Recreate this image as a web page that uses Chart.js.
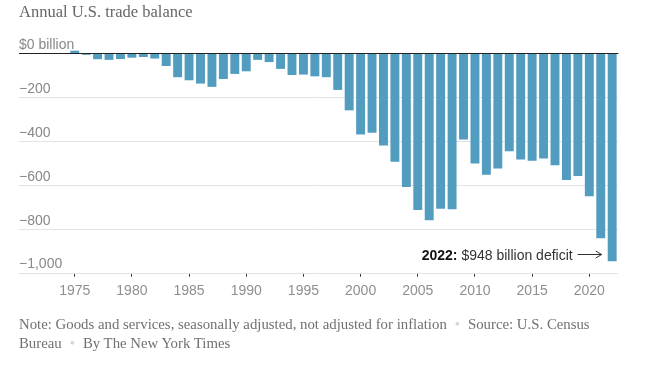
<!DOCTYPE html>
<html><head><meta charset="utf-8">
<script src="https://cdn.jsdelivr.net/npm/chart.js@4/dist/chart.umd.min.js"></script>
<style>
html,body{margin:0;padding:0;background:#fff;}
#wrap{position:relative;width:664px;height:371px;overflow:hidden;}
#c{position:absolute;left:0;top:0;}
.title{position:absolute;left:19px;top:3.7px;font:16.5px/1 "Liberation Serif",serif;color:#666;white-space:nowrap;}
.note{position:absolute;left:19px;top:315px;width:640px;font:14.8px/19px "Liberation Serif",serif;color:#707070;white-space:nowrap;}
.dot{color:#d4d4d4;margin:0 8px;}
</style></head>
<body><div id="wrap">
<canvas id="c" width="664" height="371"></canvas>
<div class="title">Annual U.S. trade balance</div>
<div class="note">Note: Goods and services, seasonally adjusted, not adjusted for inflation<span class="dot">•</span>Source: U.S. Census<br>Bureau<span class="dot">•</span>By The New York Times</div>
</div>
<script>
const years = ['1975','1976','1977','1978','1979','1980','1981','1982','1983','1984',
  '1985','1986','1987','1988','1989','1990','1991','1992','1993','1994',
  '1995','1996','1997','1998','1999','2000','2001','2002','2003','2004',
  '2005','2006','2007','2008','2009','2010','2011','2012','2013','2014',
  '2015','2016','2017','2018','2019','2020','2021','2022'];
const balance = [12,-7,-27,-30,-26,-20,-17,-24,-58,-109,
  -123,-138,-153,-117,-94,-82,-30,-40,-71,-99,
  -97,-105,-109,-167,-260,-370,-362,-420,-494,-609,
  -714,-761,-709,-711,-393,-502,-553,-525,-447,-484,
  -490,-480,-510,-578,-559,-651,-843,-948];
const xTickYears = ['1975','1980','1985','1990','1995','2000','2005','2010','2015','2020'];
const yTicks = [0,-200,-400,-600,-800,-1000];
const yTickLabels = ['$0 billion','\u2212200','\u2212400','\u2212600','\u2212800','\u22121,000'];
const annotYear = '2022';
const annotBold = '2022:';
const annotText = ' $948 billion deficit';

const LEFT_EDGE = 19;
const overlay = {
  id: 'overlay',
  beforeDatasetsDraw(chart) {
    const {ctx, chartArea, scales:{y}} = chart;
    ctx.save();
    ctx.strokeStyle = '#e3e3e3';
    ctx.lineWidth = 1;
    yTicks.forEach(v => {
      if (v === 0) return;
      const py = Math.round(y.getPixelForValue(v)) + 0.5;
      ctx.beginPath(); ctx.moveTo(LEFT_EDGE, py); ctx.lineTo(chartArea.right, py); ctx.stroke();
    });
    ctx.restore();
  },
  afterDatasetsDraw(chart) {
    const {ctx, chartArea, scales:{x, y}} = chart;
    ctx.save();
    const z = Math.round(y.getPixelForValue(0)) + 0.5;
    ctx.strokeStyle = '#222'; ctx.lineWidth = 1;
    ctx.beginPath(); ctx.moveTo(LEFT_EDGE, z); ctx.lineTo(chartArea.right + 0.5, z); ctx.stroke();
    ctx.font = '14px "Liberation Sans", Arial, sans-serif';
    ctx.fillStyle = '#888';
    ctx.textAlign = 'left'; ctx.textBaseline = 'alphabetic';
    yTicks.forEach((v, i) => {
      const py = y.getPixelForValue(v);
      ctx.fillText(yTickLabels[i], LEFT_EDGE, py - 4.3);
    });
    const idx = years.indexOf(annotYear);
    const cx = x.getPixelForValue(idx);
    const base = y.getPixelForValue(-940);
    const arrowEnd = cx - 10.5;
    const arrowStart = arrowEnd - 24;
    const ay = Math.round(base - 5.3) + 0.5;
    ctx.strokeStyle = '#333'; ctx.lineWidth = 1;
    ctx.beginPath(); ctx.moveTo(arrowStart, ay); ctx.lineTo(arrowEnd, ay); ctx.stroke();
    ctx.beginPath(); ctx.moveTo(arrowEnd - 6, ay - 3.5); ctx.lineTo(arrowEnd, ay); ctx.lineTo(arrowEnd - 6, ay + 3.5); ctx.stroke();
    ctx.font = '14px "Liberation Sans", Arial, sans-serif';
    const wReg = ctx.measureText(annotText).width;
    ctx.font = 'bold 14px "Liberation Sans", Arial, sans-serif';
    const wBold = ctx.measureText(annotBold).width;
    const textEnd = arrowStart - 5;
    const textStart = textEnd - wReg - wBold;
    ctx.fillStyle = '#121212';
    ctx.fillText(annotBold, textStart, base);
    ctx.font = '14px "Liberation Sans", Arial, sans-serif';
    ctx.fillStyle = '#333';
    ctx.fillText(annotText, textStart + wBold, base);
    ctx.restore();
  }
};

new Chart(document.getElementById('c'), {
  type: 'bar',
  data: {
    labels: years,
    datasets: [{
      data: balance,
      backgroundColor: '#529cc0',
      borderWidth: 0,
      barPercentage: 0.78,
      categoryPercentage: 1,
      clip: false
    }]
  },
  options: {
    responsive: false,
    animation: false,
    devicePixelRatio: 1,
    layout: { padding: { left: 69, right: 46.1, top: 53.3, bottom: 58.3 } },
    plugins: { legend: { display: false }, tooltip: { enabled: false } },
    scales: {
      x: {
        offset: true,
        border: { display: false },
        grid: {
          offset: false,
          drawOnChartArea: false,
          drawTicks: true,
          tickLength: 4,
          lineWidth: 1,
          color: ctx => (ctx.tick && xTickYears.includes(years[ctx.index])) ? '#333' : 'rgba(0,0,0,0)'
        },
        ticks: {
          autoSkip: false,
          maxRotation: 0,
          minRotation: 0,
          padding: 6,
          color: '#8f8f8f',
          font: { family: '"Liberation Sans", Arial, sans-serif', size: 14 },
          callback: (v, i) => xTickYears.includes(years[i]) ? years[i] : ''
        },
        afterFit: s => { s.height = 40; }
      },
      y: { display: false, min: -1000, max: 0 }
    }
  },
  plugins: [overlay]
});
</script>
</body></html>
